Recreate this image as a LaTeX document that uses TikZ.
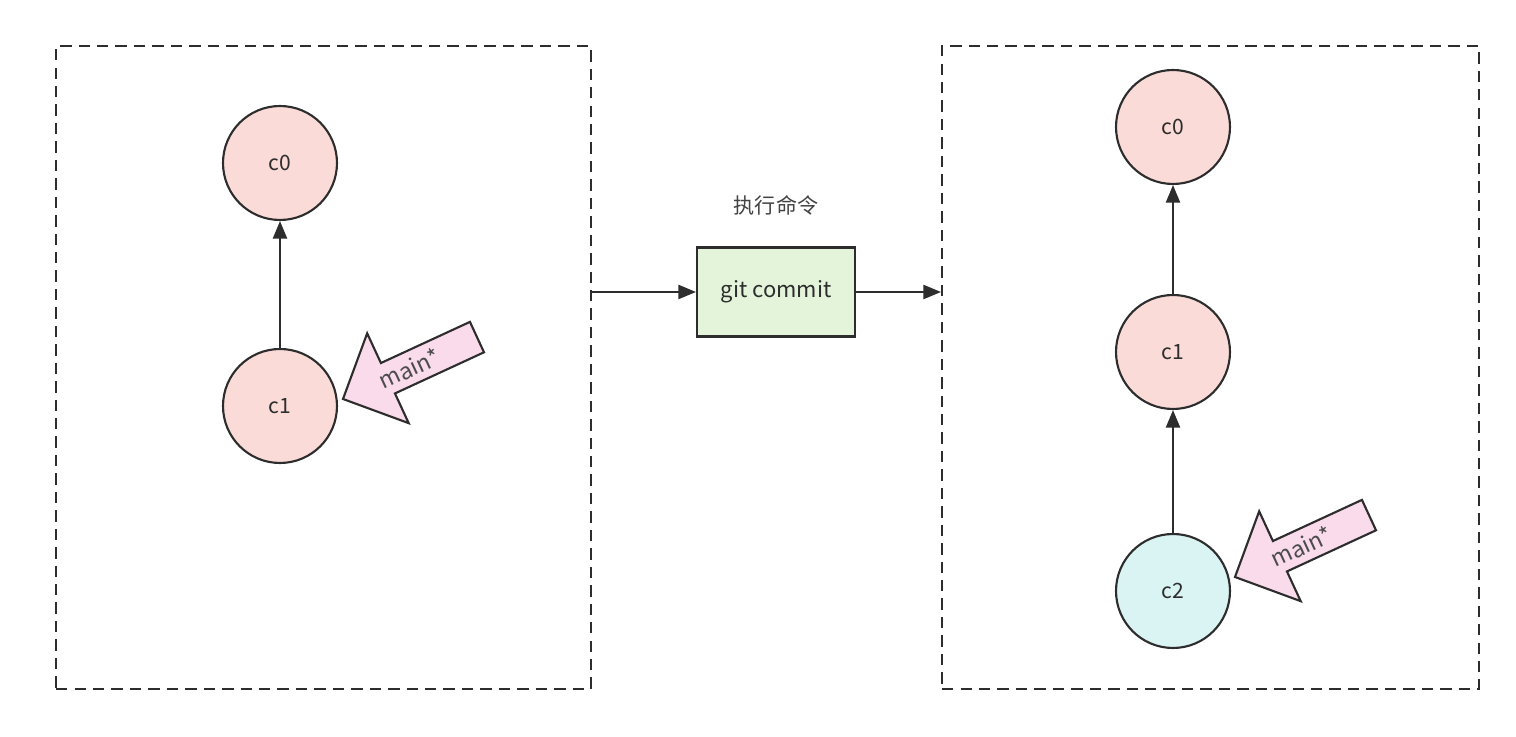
\documentclass[tikz,border=0pt]{standalone}
\usepackage{fontspec}
\setmainfont{Noto Sans CJK SC}
\usetikzlibrary{arrows.meta, positioning}
\definecolor{inkgray}{RGB}{45,45,45}
\definecolor{commitpink}{RGB}{250,219,216}
\definecolor{commitcyan}{RGB}{218,243,243}
\definecolor{cmdgreen}{RGB}{227,244,218}
\definecolor{headpink}{RGB}{249,219,236}

\begin{document}
\begin{tikzpicture}[x=0.02cm, y=0.02cm,
		commit/.style={circle, draw=inkgray, line width=1.2pt, fill=commitpink,
			minimum size=2.28cm, inner sep=0pt, font=\fontsize{12}{14}\selectfont, text=inkgray},
		frame/.style={draw=inkgray, line width=1.2pt, dash pattern=on 6.5pt off 4pt},
		cmd/.style={draw=inkgray, line width=1.2pt, fill=cmdgreen, minimum width=3.16cm,
			minimum height=1.78cm, font=\fontsize{12.5}{14}\selectfont, text=inkgray},
		arrow/.style={-{Triangle[length=10pt, width=8pt]}, line width=1.2pt, draw=inkgray},
		headbox/.style={draw=inkgray, line width=1.2pt, fill=headpink, line join=miter},
		headtext/.style={font=\fontsize{13}{15}\selectfont, text=inkgray!85, rotate=24.8, inner sep=0pt}
	]
		\useasboundingbox (0,0) rectangle (1516,737);

		% left state
		\node[frame, minimum width=10.7cm, minimum height=12.86cm] (lframe) at (323.5,369.5) {};
		\node[commit] (lc0) at (280,574) {c0};
		\node[commit] (lc1) at (280,331) {c1};
		\draw[arrow] (lc1) -- (lc0);

		% command
		\node[cmd] (cmd) at (776,445) {git commit};
		\node[font=\fontsize{12}{14}\selectfont, text=inkgray!90, above=0.5cm of cmd] (cmdlabel) {执行命令};

		% right state
		\node[frame, minimum width=10.74cm, minimum height=12.86cm] (rframe) at (1210.5,369.5) {};
		\node[commit] (rc0) at (1173,610) {c0};
		\node[commit] (rc1) at (1173,385) {c1};
		\node[commit, fill=commitcyan] (rc2) at (1173,146) {c2};
		\draw[arrow] (rc1) -- (rc0);
		\draw[arrow] (rc2) -- (rc1);

		\draw[arrow] (lframe.east |- cmd.west) -- (cmd.west);
		\draw[arrow] (cmd.east) -- (rframe.west |- cmd.east);

		% branch heads
		\foreach \tip/\name in {{343,338}/lhead, {1235,160}/rhead} {
			\begin{scope}[shift={(\tip)}, rotate=204.8]
				\draw[headbox] (0,0) -- (-49.5,49.5) -- (-49.5,16.75) -- (-147.6,16.75)
					-- (-147.6,-16.75) -- (-49.5,-16.75) -- (-49.5,-49.5) -- cycle;
				\node[headtext] (\name) at (-73,0) {main*};
			\end{scope}
		}
	\end{tikzpicture}
\end{document}
